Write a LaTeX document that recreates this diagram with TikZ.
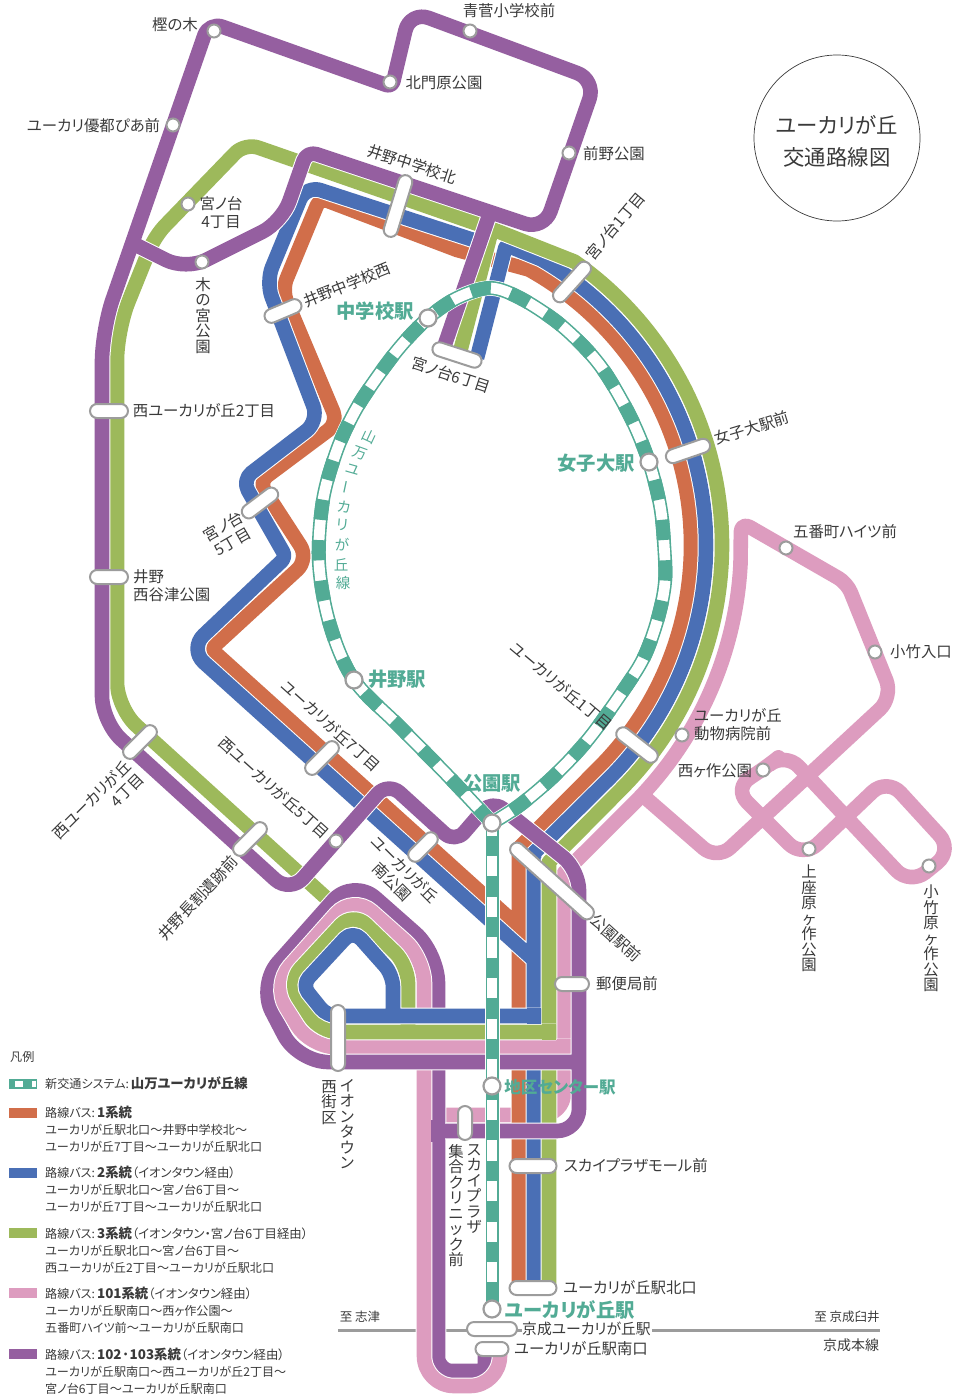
\documentclass[tikz,border=0pt]{standalone}
\usepackage{fontspec}
\setmainfont{Noto Sans CJK JP}[RawFeature={+palt}]
\usetikzlibrary{calc}
\definecolor{cpur}{HTML}{955FA0}
\definecolor{cgrn}{HTML}{9DB95B}
\definecolor{cblu}{HTML}{4A6FB5}
\definecolor{cora}{HTML}{D16E4A}
\definecolor{cpnk}{HTML}{DD9CBF}
\definecolor{ctea}{HTML}{52AB95}
\definecolor{cgry}{HTML}{9C9C9C}
\definecolor{ctxt}{HTML}{3A3A3A}
\newcommand\lgb[1]{{\fontsize{13.4}{17}\selectfont\bfseries #1}}
\newcommand\lgp[1]{{\fontsize{12.4}{17}\selectfont #1}}
\tikzset{
 route/.style={draw=#1,line width=14.6pt,line join=round,preaction={draw=white,line width=16.6pt}},
 patch/.style={draw=#1,line width=14.6pt},
 tealband/.style={line join=round,preaction={draw=white,line width=15.5pt},preaction={draw=ctea,line width=14pt},preaction={draw=white,line width=10.8pt},postaction={draw=ctea,line width=14pt,dash pattern=on 20.3pt off 20.3pt}},
 pill/.style={rectangle,draw=cgry,fill=white,line width=2pt,rounded corners=7pt,minimum height=14pt,inner sep=0pt},
 stn/.style={circle,draw=cgry,fill=white,line width=2pt,minimum size=13pt,inner sep=0pt},
 tstn/.style={circle,draw=cgry,fill=white,line width=2.2pt,minimum size=17pt,inner sep=0pt},
 lab/.style={font=\fontsize{15.4}{18}\selectfont,text=ctxt,inner sep=0pt,align=center},
 vlab/.style={font=\fontsize{15.4}{15.5}\selectfont,text=ctxt,inner sep=0pt,align=center,anchor=north},
 tlab/.style={font=\fontsize{19.3}{20}\selectfont\bfseries,text=ctea,inner sep=0pt},
 tch/.style={font=\fontsize{14.5}{14.5}\selectfont,text=ctea,inner sep=0pt},
 leg/.style={font=\fontsize{12.1}{17}\selectfont,text=ctxt,inner sep=0pt,align=left,anchor=north west},
 swatch/.style={inner sep=0pt,minimum width=28pt,minimum height=9.5pt,anchor=north west},
}
\begin{document}
\begin{tikzpicture}[x=1pt,y=-1pt]
\useasboundingbox (0,0) rectangle (960,1400);
\coordinate (C) at (376,545);
% Keisei line
\draw[cgry,line width=3pt] (338,1330) -- (522,1330);
\draw[cgry,line width=3pt] (652,1330) -- (880,1330);
% pink east + right vertical
\path[route=cpnk]
 [sharp corners] (438,1115) [rounded corners=22pt] -- (564,1115) [sharp corners] -- (564,873) -- ($(C)+(-45:365pt)$) arc[start angle=-45,end angle=-3,radius=365pt]
 [rounded corners=10pt] -- (741,522) -- (847,583) [rounded corners=18pt] -- (893,697) -- (717,860) [sharp corners] -- (640,793)
 [rounded corners=20pt] (763,770) -- (785,752) -- (910,885) -- (953,850) -- (887,778) -- (803,858) -- (733,788) -- cycle;
% orange
\path[route=cora]
 [sharp corners] (519,1288) -- (519,848) -- ($(C)+(-45:315pt)$) arc[start angle=-45,end angle=61,radius=315pt]
 -- (457,250) [rounded corners=8pt] -- (320,198) [rounded corners=12pt] -- (282,290) -- (338,423) [rounded corners=10pt] -- (259,482) [rounded corners=16pt] -- (309,559) [rounded corners=6pt] -- (211,649) [sharp corners] -- (519,927);
% blue
\path[route=cblu]
 [sharp corners] (534,1288) -- (534,853) -- ($(C)+(-45:330pt)$) arc[start angle=-45,end angle=60,radius=330pt]
 [rounded corners=3pt] -- (506,245) [sharp corners] -- (477,358)
 (495,247) -- (323,191) [rounded corners=16pt] -- (306,185) -- (266,282) -- (319,421) [rounded corners=12pt] -- (242,480) [rounded corners=6pt] -- (286,557) [rounded corners=20pt] -- (189,649) [sharp corners] -- (534,960);
% green
\path[route=cgrn]
 [sharp corners] (549,1288) -- (549,862) -- ($(C)+(-45:346pt)$) arc[start angle=-45,end angle=55,radius=346pt]
 -- (492,229) [rounded corners=14pt] -- (245,143) -- (155,236) [rounded corners=30pt] -- (117,330) [rounded corners=26pt] -- (117,708) [sharp corners] -- (345,915)
 (492,229) -- (460,352);
% purple south + octagon
\path[route=cpur]
 [sharp corners] (485,1350) [rounded corners=4pt] -- (485,1371) [rounded corners=14pt] -- (438,1371) [rounded corners=30pt] -- (438,953) -- (353,878) -- (258,985) -- (298,1062) [sharp corners] -- (340,1062);
% pink south + octagon
\path[route=cpnk]
 [sharp corners] (500,1350) [rounded corners=30pt] -- (500,1386) -- (424,1386) [rounded corners=25pt] -- (424,958) -- (353,895) -- (273,985) -- (310,1047) [sharp corners] -- (571,1047);
\path[patch=cpnk] (564,1039) -- (564,1055);
% purple main
\path[route=cpur]
 [sharp corners] (438,1131) [rounded corners=22pt] -- (579,1131) [rounded corners=20pt] -- (579,870) [rounded corners=14pt] -- (492,800) -- (455,843) [rounded corners=16pt] -- (388,782) [rounded corners=20pt] -- (290,893) [rounded corners=26pt] -- (102,722) [rounded corners=32pt] -- (102,330) [rounded corners=14pt] -- (209,22) [rounded corners=6pt] -- (392,87) [rounded corners=20pt] -- (410,11) -- (596,80) -- (544,230) [rounded corners=10pt] -- (307,151) [rounded corners=22pt] -- (282,222) -- (186,270) [sharp corners] -- (130,242)
 (492,207) -- (443,350)
 (330,1062) -- (586,1062);
\path[patch=cpur] (438,1120) -- (438,1142);
\path[patch=cpur] (579,1052) -- (579,1072);
% green octagon, blue octagon
\path[route=cgrn]
 [sharp corners] (408,1032) [rounded corners=18pt] -- (408,965) -- (353,912) -- (288,982) -- (320,1032) [sharp corners] -- (556,1032);
\path[patch=cgrn] (549,1024) -- (549,1040);
\path[route=cblu]
 [sharp corners] (393,1016) [rounded corners=12pt] -- (393,975) -- (353,930) [rounded corners=10pt] -- (302,985) -- (327,1016) [sharp corners] -- (541,1016);
\path[patch=cblu] (534,1008) -- (534,1024);
% teal
\path[tealband] plot[smooth,tension=.55] coordinates {(492,823) (450,778) (400,727) (354,680) (330,625) (319,563) (323,500) (337,450) (354,413) (373,383) (400,347) (428,318) (457,298) (490,288) (520,298) (557,322) (587,350) (608,377) (632,420) (649,462) (660,505) (664,543) (665,582) (658,618) (645,655) (627,685) (590,737) (555,775) (520,805) (492,823)};
\path[preaction={draw=white,line width=15pt},preaction={draw=ctea,line width=13pt},preaction={draw=white,line width=10pt},postaction={draw=ctea,line width=13pt,dash pattern=on 20.3pt off 20.3pt,dash phase=27.8pt}] (492,823) -- (492,1309);
% pills
\node[pill,minimum width=64pt,rotate=73] (pA) at (398,206) {};
\node[pill,minimum width=39pt,rotate=23] (pB) at (283,311) {};
\node[pill,minimum width=51pt,rotate=-18] (pC) at (457,355) {};
\node[pill,minimum width=50pt,rotate=48] (pD) at (572,282) {};
\node[pill,minimum width=46pt,rotate=19] (pE) at (688,451) {};
\node[pill,minimum width=49pt,rotate=-38] (pF) at (637,745) {};
\node[pill,minimum width=108pt,rotate=-42] (pG) at (552,881) {};
\node[pill,minimum width=34pt] (pH) at (572,984) {};
\node[pill,minimum width=47pt] (pI) at (533,1166) {};
\node[pill,minimum width=47pt] (pJ) at (533,1288) {};
\node[pill,minimum width=50pt] (pK) at (492,1329) {};
\node[pill,minimum width=33pt] (pL) at (492,1349) {};
\node[pill,minimum width=34pt,rotate=90] (pM) at (465,1123) {};
\node[pill,minimum width=66pt,rotate=90] (pN) at (338,1038) {};
\node[pill,minimum width=38pt] (pO) at (109,411) {};
\node[pill,minimum width=38pt] (pP) at (109,577) {};
\node[pill,minimum width=42pt,rotate=45] (pQ) at (140,742) {};
\node[pill,minimum width=42pt,rotate=45] (pR) at (250,839) {};
\node[pill,minimum width=42pt,rotate=45] (pS) at (322,758) {};
\node[pill,minimum width=36pt,rotate=45] (pT) at (423,847) {};
\node[pill,minimum width=42pt,rotate=37] (pU) at (260,503) {};
% stations
\foreach \n/\p in {s1/{214,31},s2/{470,31},s3/{390,82},s4/{569,153},s5/{173,125},s6/{188,204},s7/{202,262},s8/{336,841},s9/{682,735},s10/{763,770},s11/{786,548},s12/{875,652},s13/{809,849},s14/{929,866}}
  \node[stn] (\n) at (\p) {};
\foreach \n/\p in {t1/{428,318},t2/{649,462},t3/{354,680},t4/{492,823},t5/{492,1086},t6/{492,1309}}
  \node[tstn] (\n) at (\p) {};
% labels
\node[lab] (l1) at (175,25) {樫の木};
\node[lab] (l2) at (509,11) {青菅小学校前};
\node[lab] (l3) at (444,83) {北門原公園};
\node[lab] (l4) at (614,154) {前野公園};
\node[lab] (l5) at (93.5,126) {ユーカリ優都ぴあ前};
\node[lab] (l6) at (221,213) {宮ノ台\\4丁目};
\node[vlab] (l7) at (203,277) {木\\の\\宮\\公\\園};
\node[lab,rotate=-18] (l8) at (412,164) {井野中学校北};
\node[lab,rotate=22] (l9) at (347,285) {井野中学校西};
\node[lab,rotate=-18] (l10) at (451,375) {宮ノ台6丁目};
\node[lab,rotate=50] (l11) at (615,226) {宮ノ台1丁目};
\node[lab,rotate=17] (l12) at (752,428) {女子大駅前};
\node[lab] (l13) at (204,411) {西ユーカリが丘2丁目};
\node[lab,align=left,anchor=west] (l14) at (133,586) {井野\\西谷津公園};
\node[lab,rotate=30] (l15) at (228,534) {宮ノ台\\5丁目};
\node[lab,rotate=-42] (l16) at (331,726) {ユーカリが丘7丁目};
\node[lab,rotate=-42] (l17) at (274,788) {西ユーカリが丘5丁目};
\node[lab,rotate=-45] (l18) at (398.5,875.5) {ユーカリが丘\\南公園};
\node[lab,rotate=45,align=right] (l19) at (98,806) {西ユーカリが丘\\4丁目};
\node[lab,rotate=47] (l20) at (198,898) {井野長割遺跡前};
\node[lab,rotate=-42] (l21) at (616,938) {公園駅前};
\node[lab] (l22) at (627,984) {郵便局前};
\node[lab,rotate=-40] (l23) at (561,686) {ユーカリが丘1丁目};
\node[lab,align=left,anchor=west] (l24) at (694,725) {ユーカリが丘\\動物病院前};
\node[lab] (l25) at (715,771) {西ヶ作公園};
\node[lab] (l26) at (845,532) {五番町ハイツ前};
\node[lab] (l27) at (921,652) {小竹入口};
\node[vlab] (l28) at (809,865) {上\\座\\原\\ヶ\\作\\公\\園};
\node[vlab] (l29) at (931,885) {小\\竹\\原\\ヶ\\作\\公\\園};
\node[vlab] (l30) at (347,1079) {イ\\オ\\ン\\タ\\ウ\\ン};
\node[vlab] (l31) at (329,1080) {西\\街\\区};
\node[vlab] (l32) at (474,1144) {ス\\カ\\イ\\プ\\ラ\\ザ};
\node[vlab] (l33) at (456,1144) {集\\合\\ク\\リ\\ニ\\ッ\\ク\\前};
\node[lab] (l34) at (636,1166) {スカイプラザモール前};
\node[lab] (l35) at (630,1288) {ユーカリが丘駅北口};
\node[lab,font=\fontsize{14.8}{18}\selectfont] (l36) at (586.5,1329) {京成ユーカリが丘駅};
\node[lab] (l37) at (581,1349) {ユーカリが丘駅南口};
\node[lab,font=\fontsize{12.5}{15}\selectfont] (l38) at (360,1317) {至 志津};
\node[lab,font=\fontsize{12.5}{15}\selectfont] (l39) at (847,1317) {至 京成臼井};
\node[lab,font=\fontsize{14}{15}\selectfont] (l40) at (851,1345) {京成本線};
% teal station names
\node[tlab] (n1) at (375,311) {中学校駅};
\node[tlab] (n2) at (596,463) {女子大駅};
\node[tlab] (n3) at (397,679) {井野駅};
\node[tlab] (n4) at (492,783) {公園駅};
\node[tlab,font=\fontsize{16.5}{18}\selectfont\bfseries] (n5) at (560,1087) {地区センター駅};
\node[tlab,font=\fontsize{19.3}{20}\selectfont\bfseries] (n6) at (570,1310) {ユーカリが丘駅};
% line name along the loop
\node[tch,rotate=-25] (c1) at (369,437) {山};
\node[tch,rotate=-20] (c2) at (360,453) {万};
\node[tch,rotate=-16] (c3) at (353,470) {ユ};
\node[tch,rotate=78] (c4) at (348,488) {ー};
\node[tch,rotate=-8] (c5) at (344,507) {カ};
\node[tch,rotate=-5] (c6) at (342,525) {リ};
\node[tch] (c7) at (342,545) {が};
\node[tch] (c8) at (341,565) {丘};
\node[tch] (c9) at (343,583) {線};
% title
\node[circle,draw=ctxt,line width=.7pt,minimum size=166pt,inner sep=0pt] (title) at (837,138) {};
\node[lab,font=\fontsize{21.4}{32}\selectfont] (titletxt) at (837,141) {ユーカリが丘\\交通路線図};
% legend
\node[leg] (g0) at (10,1051) {凡例};
\node[swatch,fill=ctea] (k0) at (9,1079) {};
\node[inner sep=0pt,fill=white,minimum width=8pt,minimum height=6pt] (k0a) at (19,1083.5) {};
\node[inner sep=0pt,fill=white,minimum width=4pt,minimum height=6pt] (k0b) at (34,1083.5) {};
\node[leg] (g1) at (45,1077) {新交通システム:\,\lgb{山万ユーカリが丘線}};
\node[swatch,fill=cora] (k1) at (9,1108) {};
\node[leg] (g2) at (45,1106) {路線バス:\,\lgb{1系統}\\ユーカリが丘駅北口〜井野中学校北〜\\ユーカリが丘7丁目〜ユーカリが丘駅北口};
\node[swatch,fill=cblu] (k2) at (9,1168) {};
\node[leg] (g3) at (45,1166) {路線バス:\,\lgb{2系統}\lgp{（イオンタウン経由）}\\ユーカリが丘駅北口〜宮ノ台6丁目〜\\ユーカリが丘7丁目〜ユーカリが丘駅北口};
\node[swatch,fill=cgrn] (k3) at (9,1228) {};
\node[leg] (g4) at (45,1227) {路線バス:\,\lgb{3系統}\lgp{（イオンタウン・宮ノ台6丁目経由）}\\ユーカリが丘駅北口〜宮ノ台6丁目〜\\西ユーカリが丘2丁目〜ユーカリが丘駅北口};
\node[swatch,fill=cpnk] (k4) at (9,1288) {};
\node[leg] (g5) at (45,1287) {路線バス:\,\lgb{101系統}\lgp{（イオンタウン経由）}\\ユーカリが丘駅南口〜西ヶ作公園〜\\五番町ハイツ前〜ユーカリが丘駅南口};
\node[swatch,fill=cpur] (k5) at (9,1349) {};
\node[leg] (g6) at (45,1348) {路線バス:\,\lgb{102·103系統}\lgp{（イオンタウン経由）}\\ユーカリが丘駅南口〜西ユーカリが丘2丁目〜\\宮ノ台6丁目〜ユーカリが丘駅南口};
\end{tikzpicture}
\end{document}
